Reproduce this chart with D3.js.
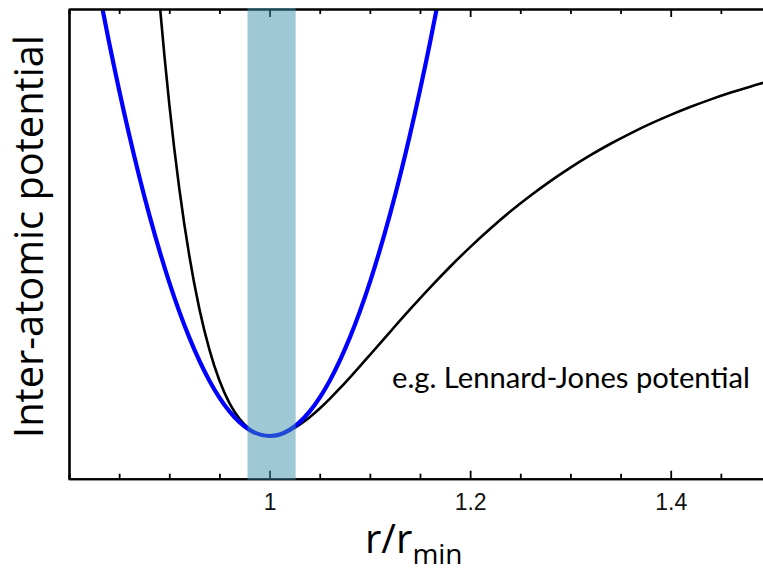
<!DOCTYPE html>
<html>
<head>
<meta charset="utf-8">
<script src="https://cdn.jsdelivr.net/npm/d3@7"></script>
<style>
  html, body { margin: 0; padding: 0; background: #fff; }
  svg { display: block; }
</style>
</head>
<body>
<svg id="chart" width="763" height="572"></svg>
<script>
// ---- data ----
const ljR = [0.87, 0.88, 0.89, 0.90, 0.91, 0.92, 0.93, 0.94, 0.95, 0.96, 0.97, 0.98, 0.99, 1.00,
             1.01, 1.02, 1.03, 1.04, 1.05, 1.06, 1.07, 1.08, 1.09, 1.10, 1.12, 1.14, 1.16, 1.18,
             1.20, 1.22, 1.24, 1.26, 1.28, 1.30, 1.32, 1.34, 1.36, 1.38, 1.40, 1.42, 1.44, 1.46,
             1.48, 1.50];
const ljV = [0.706, 0.330, 0.0245, -0.2226, -0.4209, -0.5785, -0.7023, -0.7979, -0.8701, -0.9230,
             -0.9598, -0.9834, -0.9961, -1.0, -0.9966, -0.9875, -0.9736, -0.9560, -0.9356, -0.9130,
             -0.8887, -0.8632, -0.8370, -0.8103, -0.7566, -0.7036, -0.6524, -0.6036, -0.5576,
             -0.5146, -0.4745, -0.4374, -0.4030, -0.3714, -0.3423, -0.3156, -0.2911, -0.2686,
             -0.2480, -0.2291, -0.2117, -0.1958, -0.1813, -0.1679];
const harmR = [0.81, 0.82, 0.83, 0.84, 0.86, 0.88, 0.90, 0.92, 0.94, 0.96, 0.98, 1.00,
               1.02, 1.04, 1.06, 1.08, 1.10, 1.12, 1.14, 1.16, 1.17, 1.18, 1.19];
const harmV = [0.2996, 0.1664, 0.0404, -0.0784, -0.2944, -0.4816, -0.64, -0.7696, -0.8704, -0.9424,
               -0.9856, -1.0, -0.9856, -0.9424, -0.8704, -0.7696, -0.64, -0.4816, -0.2944,
               -0.0784, 0.0404, 0.1664, 0.2996];
const bandRange = [0.978, 1.026];
const xDomain = [0.8, 1.5];
const yDomain = [-1.1, 0];
const majorTicks = [1, 1.2, 1.4];
const minorTicks = [0.85, 0.9, 0.95, 1.05, 1.1, 1.15, 1.25, 1.3, 1.35, 1.45];
const yLabel = "Inter-atomic potential";
const annotation = "e.g. Lennard-Jones potential";

// ---- layout ----
const svg = d3.select("#chart");
const mLeft = 69, mRight = 771, mTop = 9, mBottom = 478.7;
const x = d3.scaleLinear().domain(xDomain).range([mLeft, mRight]);
const y = d3.scaleLinear().domain(yDomain).range([mBottom, mTop]);

svg.append("rect").attr("width", 763).attr("height", 572).attr("fill", "#fff");

svg.append("defs").append("clipPath").attr("id", "clip")
  .append("rect").attr("x", mLeft).attr("y", mTop).attr("width", 763 - mLeft).attr("height", mBottom - mTop);

const line = d3.line().x(d => x(d[0])).y(d => y(d[1])).curve(d3.curveMonotoneX);

const plot = svg.append("g").attr("clip-path", "url(#clip)");
plot.append("path")
  .datum(ljR.map((r, i) => [r, ljV[i]]))
  .attr("fill", "none").attr("stroke", "#000").attr("stroke-width", 2.6)
  .attr("d", line);
plot.append("path")
  .datum(harmR.map((r, i) => [r, harmV[i]]))
  .attr("fill", "none").attr("stroke", "#0000ff").attr("stroke-width", 4.2)
  .attr("d", line);

// axes
function styleAxis(g) {
  g.select(".domain").attr("stroke", "#000").attr("stroke-width", 2);
  g.selectAll(".tick line").attr("stroke", "#000").attr("stroke-width", 1.8);
}
svg.append("g").attr("transform", `translate(0,${mBottom})`)
  .call(d3.axisBottom(x).tickValues(minorTicks).tickSize(-5).tickFormat(""))
  .call(styleAxis);
svg.append("g").attr("transform", `translate(0,${mBottom})`)
  .call(d3.axisBottom(x).tickValues(majorTicks).tickSize(-8).tickSizeOuter(0).tickPadding(15)
        .tickFormat(d3.format("~g")))
  .call(styleAxis)
  .attr("font-family", "'Liberation Sans', Arial, sans-serif")
  .attr("font-size", 23)
  .call(g => g.selectAll("text").style("font-size", "23px").style("fill", "#111"));
svg.append("g").attr("transform", `translate(0,${mTop})`)
  .call(d3.axisTop(x).tickValues(minorTicks).tickSize(-5).tickFormat(""))
  .call(styleAxis);
svg.append("g").attr("transform", `translate(0,${mTop})`)
  .call(d3.axisTop(x).tickValues(majorTicks).tickSize(-8).tickSizeOuter(0).tickFormat(""))
  .call(styleAxis);
svg.append("g").attr("transform", `translate(${mLeft},0)`)
  .call(d3.axisLeft(y).tickValues([]).tickSizeOuter(0))
  .call(g => g.select(".domain").attr("stroke", "#000").attr("stroke-width", 2.6));

// shaded band on top, semi-transparent
svg.append("rect")
  .attr("x", x(bandRange[0])).attr("width", x(bandRange[1]) - x(bandRange[0]))
  .attr("y", mTop - 1).attr("height", mBottom - mTop + 2)
  .attr("fill", "rgb(62,146,170)").attr("opacity", 0.5);

// text helper: fit font size to a target width
function fit(sel, target) {
  const w = sel.node().getComputedTextLength();
  const fs = parseFloat(sel.attr("font-size"));
  sel.attr("font-size", fs * target / w);
}

const yl = svg.append("text")
  .attr("transform", "translate(43,236.5) rotate(-90)")
  .attr("text-anchor", "middle")
  .attr("font-family", "'Open Sans', sans-serif")
  .attr("font-size", 38).attr("fill", "#000")
  .text(yLabel);
fit(yl, 403);

const xl = svg.append("text")
  .attr("x", 365).attr("y", 553)
  .attr("font-family", "'Open Sans', sans-serif")
  .attr("font-size", 40).attr("fill", "#000");
xl.append("tspan").text("r/r");
xl.append("tspan").attr("font-size", 28).attr("dy", 11).text("min");

const an = svg.append("text")
  .attr("x", 392).attr("y", 388)
  .attr("font-family", "Lato, sans-serif")
  .attr("font-size", 28).attr("fill", "#000")
  .text(annotation);
fit(an, 358);
</script>
</body>
</html>
